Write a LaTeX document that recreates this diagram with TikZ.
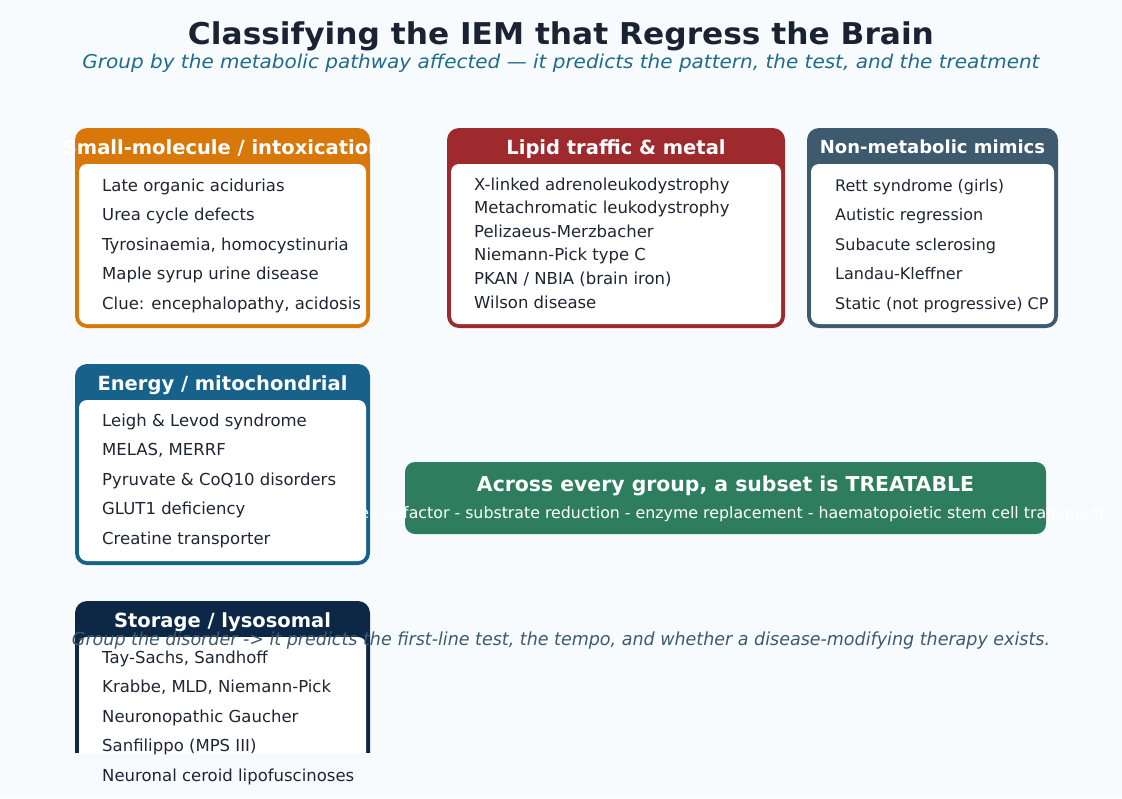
\documentclass[tikz,border=0pt]{standalone}
\usepackage{fontspec}
\setmainfont{DejaVu Sans}
\usepackage{graphicx}
\definecolor{bgc}{HTML}{F7FBFD}
\definecolor{titlec}{HTML}{1B2333}
\definecolor{subc}{HTML}{1F6B8A}
\definecolor{orangec}{HTML}{D9780A}
\definecolor{redc}{HTML}{9E2A2E}
\definecolor{slatec}{HTML}{3E5A6F}
\definecolor{energyc}{HTML}{17628A}
\definecolor{navyc}{HTML}{0D2747}
\definecolor{greenc}{HTML}{2E7D5E}
\definecolor{itemc}{HTML}{1F2633}
\definecolor{footc}{HTML}{3E5A6E}
\tikzset{
  item/.style={anchor=base west, inner sep=0pt, text=itemc, font=\fontsize{16.5}{20}\selectfont},
  itemsm/.style={item, font=\fontsize{16}{19}\selectfont},
  hdr/.style={anchor=base, inner sep=0pt, text=white, font=\bfseries\fontsize{19.5}{22}\selectfont},
  hdrsm/.style={hdr, font=\bfseries\fontsize{18}{21}\selectfont},
  outerbox/.style={rounded corners=12pt},
  innerbox/.style={fill=white, rounded corners=8pt},
}
\begin{document}
\begin{tikzpicture}[x=1pt,y=-1pt]
\fill[bgc] (0,0) rectangle (1122,798);
\useasboundingbox (0,0) rectangle (1122,798);

% title
\node[anchor=base, inner sep=0pt, text=titlec, font=\bfseries\fontsize{30}{34}\selectfont] (title) at (561,44)
  {\resizebox{746pt}{\height}{Classifying the IEM that Regress the Brain}};
\node[anchor=base, inner sep=0pt, text=subc, font=\itshape\fontsize{19}{22}\selectfont] (subtitle) at (561,68)
  {\resizebox{957pt}{\height}{Group by the metabolic pathway affected — it predicts the pattern, the test, and the treatment}};

% box 1: small molecule
\fill[orangec, outerbox] (75,128) rectangle (370,328);
\fill[innerbox] (79,164) rectangle (366,324);
\node[hdr] (h1) at (222.5,154) {Small-molecule / intoxication};
\node[item] (a1) at (102,191) {Late organic acidurias};
\node[item] (a2) at (102,220.5) {Urea cycle defects};
\node[item] (a3) at (102,250) {Tyrosinaemia, homocystinuria};
\node[item] (a4) at (102,279.5) {Maple syrup urine disease};
\node[item] (a5) at (102,309) {Clue: encephalopathy, acidosis};

% box 2: lipid
\fill[redc, outerbox] (447,128) rectangle (785,328);
\fill[innerbox] (451,164) rectangle (781,324);
\node[hdr] (h2) at (616,154) {Lipid traffic \& metal};
\node[item] (b1) at (474,190) {X-linked adrenoleukodystrophy};
\node[item] (b2) at (474,213.6) {Metachromatic leukodystrophy};
\node[item] (b3) at (474,237.2) {Pelizaeus-Merzbacher};
\node[item] (b4) at (474,260.8) {Niemann-Pick type C};
\node[item] (b5) at (474,284.4) {PKAN / NBIA (brain iron)};
\node[item] (b6) at (474,308) {Wilson disease};

% box 3: mimics
\fill[slatec, outerbox] (807,128) rectangle (1058,328);
\fill[innerbox] (811,164) rectangle (1054,324);
\node[hdrsm] (h3) at (932.5,153) {Non-metabolic mimics};
\node[itemsm] (c1) at (835,191) {Rett syndrome (girls)};
\node[itemsm] (c2) at (835,220.5) {Autistic regression};
\node[itemsm] (c3) at (835,250) {Subacute sclerosing};
\node[itemsm] (c4) at (835,279.5) {Landau-Kleffner};
\node[itemsm] (c5) at (835,309) {Static (not progressive) CP};

% box 4: energy
\fill[energyc, outerbox] (75,364) rectangle (370,565);
\fill[innerbox] (79,400) rectangle (366,561);
\node[hdr] (h4) at (222.5,390) {Energy / mitochondrial};
\node[item] (d1) at (102,426) {Leigh \& Levod syndrome};
\node[item] (d2) at (102,455.5) {MELAS, MERRF};
\node[item] (d3) at (102,485) {Pyruvate \& CoQ10 disorders};
\node[item] (d4) at (102,514.5) {GLUT1 deficiency};
\node[item] (d5) at (102,544) {Creatine transporter};

% box 5: storage (cut off)
\begin{scope}
\clip (0,0) rectangle (1122,752);
\fill[navyc, outerbox] (75,601) rectangle (370,802);
\fill[innerbox] (79,637) rectangle (366,798);
\end{scope}
\node[hdr] (h5) at (222.5,627) {Storage / lysosomal};
\node[item] (e1) at (102,663) {Tay-Sachs, Sandhoff};
\node[item] (e2) at (102,692.5) {Krabbe, MLD, Niemann-Pick};
\node[item] (e3) at (102,722) {Neuronopathic Gaucher};
\node[item] (e4) at (102,751.5) {Sanfilippo (MPS III)};
\node[item] (e5) at (102,781) {Neuronal ceroid lipofuscinoses};

% treatable banner
\fill[greenc, rounded corners=10pt] (405,462) rectangle (1046,534);
\node[anchor=base, inner sep=0pt, text=white, font=\bfseries\fontsize{20.5}{24}\selectfont] (tr) at (725.5,491.5)
  {\resizebox{497pt}{\height}{Across every group, a subset is TREATABLE}};
\node[anchor=base west, inner sep=0pt, text=white, font=\fontsize{15.8}{19}\selectfont] (trsub) at (403,518)
  {\llap{Diet - chelate - co}factor - substrate reduction - enzyme replacement - haematopoietic stem cell transplant};

% footer
\node[anchor=base, inner sep=0pt, text=footc, font=\itshape\fontsize{18}{21}\selectfont] (foot) at (561,645)
  {\resizebox{978pt}{\height}{Group the disorder -> it predicts the first-line test, the tempo, and whether a disease-modifying therapy exists.}};
\end{tikzpicture}
\end{document}
